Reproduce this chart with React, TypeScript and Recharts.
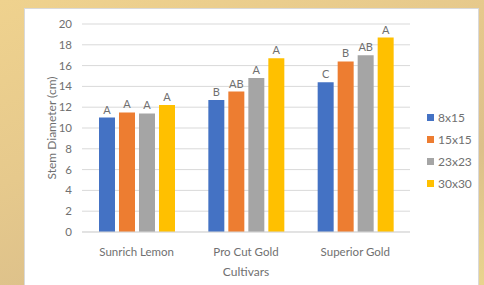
import { BarChart, Bar, XAxis, YAxis, CartesianGrid, LabelList } from 'recharts';

const cultivars = ['Sunrich Lemon', 'Pro Cut Gold', 'Superior Gold'];
const spacing = ['8x15', '15x15', '23x23', '30x30'];
const v8x15 = [11.0, 12.7, 14.4];
const v15x15 = [11.5, 13.5, 16.4];
const v23x23 = [11.4, 14.8, 17.0];
const v30x30 = [12.2, 16.7, 18.7];
const l8x15 = ['A', 'B', 'C'];
const l15x15 = ['A', 'AB', 'B'];
const l23x23 = ['A', 'A', 'AB'];
const l30x30 = ['A', 'A', 'A'];
const yTicks = [0, 2, 4, 6, 8, 10, 12, 14, 16, 18, 20];

const colors = ['#4472C4', '#ED7D31', '#A5A5A5', '#FFC000'];
const txt = '#707070';
const font = 'Lato, "Open Sans", sans-serif';

const data = cultivars.map((c, i) => ({
  name: c,
  s0: v8x15[i], s1: v15x15[i], s2: v23x23[i], s3: v30x30[i],
  l0: l8x15[i], l1: l15x15[i], l2: l23x23[i], l3: l30x30[i],
}));

const LegendBox = () => (
  <div style={{ position: 'absolute', left: 402, top: 97, fontFamily: font, fontSize: 12, color: txt }}>
    {spacing.map((s, i) => (
      <div key={s} style={{ display: 'flex', alignItems: 'center', height: 22 }}>
        <span style={{ width: 7, height: 7, background: colors[i], marginRight: 4 }} />
        {s}
      </div>
    ))}
  </div>
);

const YLabel = ({ viewBox }: any) => {
  const x = 26;
  const y = viewBox.y + viewBox.height / 2;
  return (
    <text x={x} y={y} transform={`rotate(-90 ${x} ${y})`} textAnchor="middle" dominantBaseline="central"
      fontSize={12} fill={txt}>
      Stem Diameter (cm)
    </text>
  );
};

export default function App() {
  return (
    <div style={{
      position: 'fixed', left: 0, top: 0, width: 484, height: 285, overflow: 'hidden',
      background: 'linear-gradient(160deg, #efd28e 0%, #e6c98c 40%, #dcc08a 70%, #e8d48e 100%)',
    }}>
      <div style={{
        position: 'absolute', left: 24, top: 8, width: 455, height: 280,
        background: '#fff', border: '1px solid #d9d9d9', boxSizing: 'border-box',
      }}>
        <BarChart width={455} height={277} data={data}
          margin={{ top: 15, right: 70, bottom: 0, left: 0 }}
          barCategoryGap="15%" barGap={4} barSize={16}
          style={{ fontFamily: font }}>
          <CartesianGrid stroke="#d9d9d9" vertical={false} />
          <XAxis dataKey="name" height={54} axisLine={{ stroke: '#d9d9d9' }} tickLine={false}
            tick={{ fontSize: 11.5, fill: txt }} tickMargin={10}
            label={{ value: 'Cultivars', position: 'insideBottom', offset: 10, fontSize: 12, fill: txt }} />
          <YAxis width={57} domain={[0, 20]} ticks={yTicks} interval={0} axisLine={false} tickLine={false}
            tick={{ fontSize: 11.5, fill: txt }} tickMargin={4}
            label={<YLabel />} />
          {[0, 1, 2, 3].map((i) => (
            <Bar key={i} dataKey={`s${i}`} name={spacing[i]} fill={colors[i]} isAnimationActive={false}>
              <LabelList dataKey={`l${i}`} position="top" offset={4} style={{ fontSize: 11, fill: txt }} />
            </Bar>
          ))}
        </BarChart>
        <LegendBox />
      </div>
    </div>
  );
}
